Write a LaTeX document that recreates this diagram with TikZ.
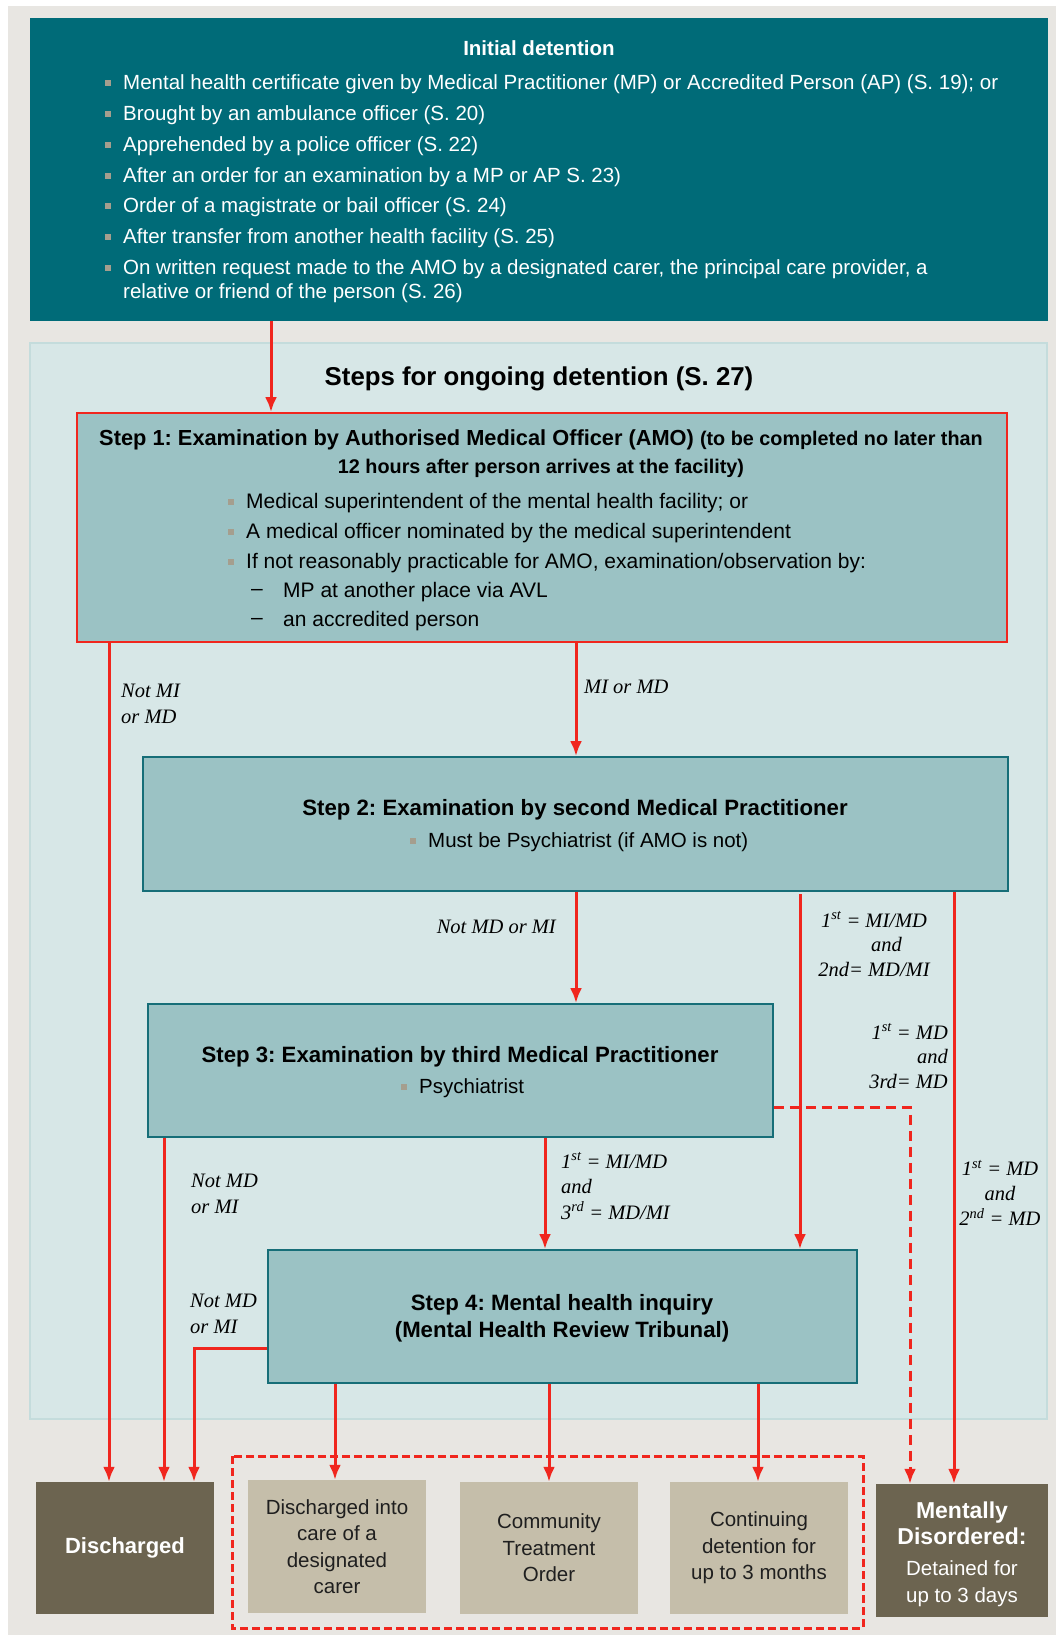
\documentclass[tikz,border=0pt]{standalone}
\usepackage{fontspec}
\setmainfont{Liberation Sans}
\newfontfamily\labfont{Liberation Serif}
\usetikzlibrary{arrows.meta}
\frenchspacing
\definecolor{bgout}{RGB}{232,230,226}
\definecolor{tealdk}{RGB}{0,107,120}
\definecolor{bglight}{RGB}{215,231,231}
\definecolor{bglightedge}{RGB}{196,220,220}
\definecolor{stepfill}{RGB}{155,194,196}
\definecolor{stepedge}{RGB}{22,110,120}
\definecolor{arrred}{RGB}{240,38,30}
\definecolor{cbrown}{RGB}{108,100,80}
\definecolor{ctan}{RGB}{197,190,170}
\definecolor{bulc}{RGB}{165,158,142}
\newcommand\bl{\llap{\textcolor{bulc}{\rule[3.5pt]{6pt}{6pt}}\hspace{12pt}}}
\newcommand\sz[2]{\fontsize{#1}{#2}\selectfont}
\tikzset{
  stepbox/.style={draw=stepedge, line width=1.8pt, fill=stepfill, inner sep=0pt},
  endbox/.style={fill=cbrown, inner sep=0pt, text=white, align=center},
  optbox/.style={fill=ctan, inner sep=0pt, text=black!88, align=center},
  txt/.style={inner sep=0pt, anchor=west},
  wtxt/.style={inner sep=0pt, anchor=west, text=white},
  lab/.style={inner sep=0pt, font=\labfont\itshape\sz{20.5}{25}},
  arr/.style={draw=arrred, line width=3pt, -{Latex[length=15pt,width=12pt]}},
  dasharr/.style={arr, dash pattern=on 10pt off 6pt},
}
\begin{document}
\begin{tikzpicture}[x=1pt,y=-1pt]
\useasboundingbox (0,0) rectangle (1056,1635);
\fill[white] (0,0) rectangle (1056,1635);
\fill[bgout] (8,6) rectangle (1056,1635);

% containers
\node[fill=tealdk, inner sep=0pt, minimum width=1018pt, minimum height=303pt] (init) at (539,169.5) {};
\node[fill=bglight, draw=bglightedge, line width=2pt, inner sep=0pt, minimum width=1017pt, minimum height=1076pt] (steps) at (538.5,881) {};

% initial detention text
\node[inner sep=0pt, text=white, font=\bfseries\sz{20.5}{24}] (ititle) at (539,48) {Initial detention};
\begin{scope}[every node/.style={wtxt, font=\sz{20.5}{24}}]
\node (i1) at (123,84) {\bl Mental health certificate given by Medical Practitioner (MP) or Accredited Person (AP) (S. 19); or};
\node (i2) at (123,115) {\bl Brought by an ambulance officer (S. 20)};
\node (i3) at (123,146) {\bl Apprehended by a police officer (S. 22)};
\node (i4) at (123,177) {\bl After an order for an examination by a MP or AP S. 23)};
\node (i5) at (123,207) {\bl Order of a magistrate or bail officer (S. 24)};
\node (i6) at (123,238) {\bl After transfer from another health facility (S. 25)};
\node (i7) at (123,269) {\bl On written request made to the AMO by a designated carer, the principal care provider, a};
\node (i8) at (123,293) {relative or friend of the person (S. 26)};
\end{scope}

\node[inner sep=0pt, font=\bfseries\sz{25.8}{30}] (stitle) at (539,379) {Steps for ongoing detention (S. 27)};

% step boxes
\node[stepbox, draw=arrred, minimum width=930pt, minimum height=229pt] (s1) at (542,527.5) {};
\node[stepbox, minimum width=865pt, minimum height=134pt] (s2) at (575.5,824) {};
\node[stepbox, minimum width=625pt, minimum height=133pt] (s3) at (460.5,1070.5) {};
\node[stepbox, minimum width=589pt, minimum height=133pt] (s4) at (562.5,1316.5) {};

% step 1 text
\node[inner sep=0pt, font=\bfseries\sz{21.8}{26}] (s1t1) at (541,440) {Step 1: Examination by Authorised Medical Officer (AMO) {\sz{19.8}{24}(to be completed no later than}};
\node[inner sep=0pt, font=\bfseries\sz{19.8}{24}] (s1t2) at (541,468) {12 hours after person arrives at the facility)};
\begin{scope}[every node/.style={txt, font=\sz{21}{24}}]
\node (s1b1) at (246,503) {\bl Medical superintendent of the mental health facility; or};
\node (s1b2) at (246,533) {\bl A medical officer nominated by the medical superintendent};
\node (s1b3) at (246,563) {\bl If not reasonably practicable for AMO, examination/observation by:};
\node (s1d1) at (251,592) {--};
\node (s1c1) at (283,592) {MP at another place via AVL};
\node (s1d2) at (251,621) {--};
\node (s1c2) at (283,621) {an accredited person};
\end{scope}

% step 2-4 text
\node[inner sep=0pt, font=\bfseries\sz{22.2}{26}] (s2t) at (575,810) {Step 2: Examination by second Medical Practitioner};
\node[txt, font=\sz{20.5}{24}] (s2b) at (428,842) {\bl Must be Psychiatrist (if AMO is not)};
\node[inner sep=0pt, font=\bfseries\sz{22.2}{26}] (s3t) at (460,1057) {Step 3: Examination by third Medical Practitioner};
\node[txt, font=\sz{20.5}{24}] (s3b) at (419,1088) {\bl Psychiatrist};
\node[inner sep=0pt, font=\bfseries\sz{22.2}{27}, align=center] (s4t) at (562,1318.5) {Step 4: Mental health inquiry\\(Mental Health Review Tribunal)};

% outcome boxes
\node[endbox, minimum width=178pt, minimum height=132pt, font=\bfseries\sz{22}{26}] (dis) at (125,1548) {Discharged};
\node[optbox, minimum width=178pt, minimum height=133pt, font=\sz{20.5}{26.5}] (dc) at (337,1546.5) {Discharged into\\care of a\\designated\\carer};
\node[optbox, minimum width=178pt, minimum height=132pt, font=\sz{20.5}{26.5}] (cto) at (549,1548) {Community\\Treatment\\Order};
\node[optbox, minimum width=178pt, minimum height=132pt, font=\sz{20.5}{26.5}] (cont) at (759,1548) {Continuing\\detention for\\up to 3 months};
\node[endbox, minimum width=172pt, minimum height=133pt] (md) at (962,1550.5) {};
\node[inner sep=0pt, text=white, align=center, font=\bfseries\sz{23}{26}] (mdt1) at (962,1523) {Mentally\\Disordered:};
\node[inner sep=0pt, text=white, align=center, font=\sz{20.5}{27}] (mdt2) at (962,1584) {Detained for\\up to 3 days};

% dashed group
\draw[arrred, line width=3pt, dash pattern=on 8pt off 4pt] (232,1456) rectangle (863,1628);

% x positions
\coordinate (xa) at (271,0);
\coordinate (xb) at (109,0);
\coordinate (xc) at (576,0);
\coordinate (xd) at (800,0);
\coordinate (xe) at (954,0);
\coordinate (xf) at (910,0);
\coordinate (xg) at (164,0);
\coordinate (xh) at (545,0);
\coordinate (xi) at (194,0);
\coordinate (xj) at (335,0);
\coordinate (xk) at (549,0);
\coordinate (xl) at (758,0);
\coordinate (ya) at (0,1107);
\coordinate (yb) at (0,1348);
\coordinate (yc) at (0,894);

% connectors
\draw[arr] (init.south -| xa) -- (s1.north -| xa);
\draw[arr] (s1.south -| xb) -- (dis.north -| xb);
\draw[arr] (s1.south -| xc) -- (s2.north -| xc);
\draw[arr] (s2.south -| xc) -- (s3.north -| xc);
\draw[arr] (yc -| xd) -- (s4.north -| xd);
\draw[arr] (s2.south -| xe) -- (md.north -| xe);
\draw[dasharr] (s3.east |- ya) -- (xf |- ya) -- (md.north -| xf);
\draw[arr] (s3.south -| xg) -- (dis.north -| xg);
\draw[arr] (s3.south -| xh) -- (s4.north -| xh);
\draw[arr] (s4.west |- yb) -- (xi |- yb) -- (dis.north -| xi);
\draw[arr] (s4.south -| xj) -- (dc.north -| xj);
\draw[arr] (s4.south -| xk) -- (cto.north -| xk);
\draw[arr] (s4.south -| xl) -- (cont.north -| xl);

% labels
\node[lab, anchor=west, align=left, font=\labfont\itshape\sz{20.5}{26}] (l1) at (121,704) {Not MI\\or MD};
\node[lab, anchor=west] (l2) at (584,687) {MI or MD};
\node[lab, anchor=east] (l3) at (556,927) {Not MD or MI};
\node[lab, align=center, font=\labfont\itshape\sz{20.5}{24.5}] (l4) at (874,944) {1\textsuperscript{st} = MI/MD\\\hspace*{25pt}and\\2nd= MD/MI};
\node[lab, anchor=east, align=right, font=\labfont\itshape\sz{20.5}{24.5}] (l5) at (948,1056) {1\textsuperscript{st} = MD\\and\\3rd= MD};
\node[lab, anchor=west, align=left, font=\labfont\itshape\sz{20.5}{25.5}] (l6) at (561,1186) {1\textsuperscript{st} = MI/MD\\and\\3\textsuperscript{rd} = MD/MI};
\node[lab, align=center] (l7) at (1000,1193) {1\textsuperscript{st} = MD\\and\\2\textsuperscript{nd} = MD};
\node[lab, anchor=west, align=left, font=\labfont\itshape\sz{20.5}{26}] (l8) at (191,1194) {Not MD\\or MI};
\node[lab, anchor=west, align=left, font=\labfont\itshape\sz{20.5}{26}] (l9) at (190,1314) {Not MD\\or MI};
\end{tikzpicture}
\end{document}
